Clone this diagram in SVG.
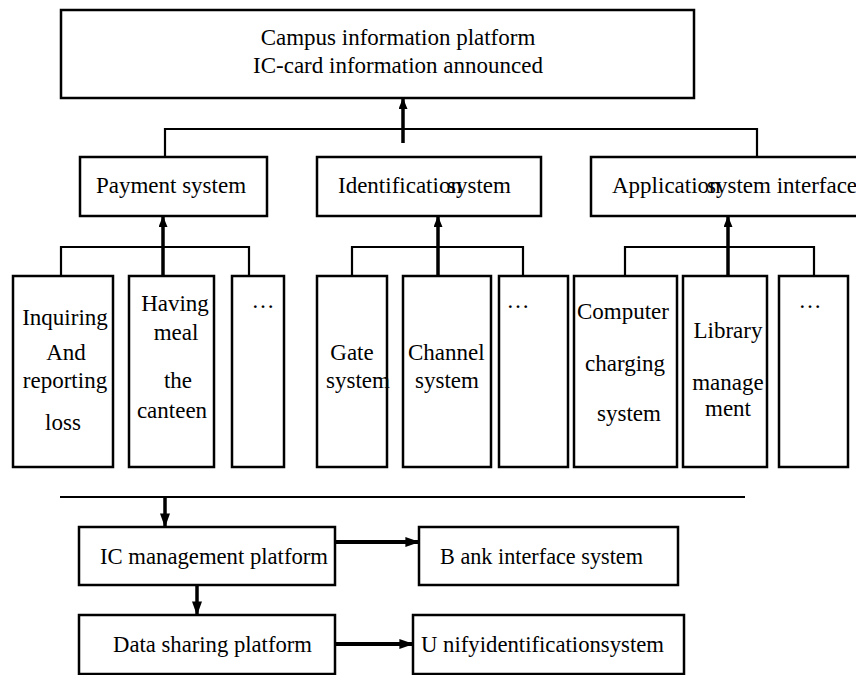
<svg xmlns="http://www.w3.org/2000/svg" width="856" height="675" viewBox="0 0 856 675" font-family="'Liberation Serif', 'DejaVu Serif', serif">
<defs>
<style>
.box{fill:#fff;stroke:#000;stroke-width:2.5}
.ln{fill:none;stroke:#000;stroke-width:2.2}
.th{fill:none;stroke:#000;stroke-width:3.5}
.th2{fill:none;stroke:#000;stroke-width:4}
text{font-family:'Liberation Serif','DejaVu Serif',serif;font-size:23px;fill:#000}
.m{text-anchor:middle}
</style>
<marker id="ah" viewBox="0 0 10 10" refX="9" refY="5" markerWidth="11" markerHeight="9" orient="auto" markerUnits="userSpaceOnUse" preserveAspectRatio="none"><path d="M0,0 L10,5 L0,10 z" fill="#000"/></marker>
<marker id="ah2" viewBox="0 0 10 10" refX="9" refY="5" markerWidth="14" markerHeight="10" orient="auto" markerUnits="userSpaceOnUse" preserveAspectRatio="none"><path d="M0,0 L10,5 L0,10 z" fill="#000"/></marker>
</defs>
<g id="connectors">
<path class="ln" d="M165,157 V129 H757 V157"/>
<path class="th" d="M403,143 V99" marker-end="url(#ah)"/>
<path class="ln" d="M61,276 V247 H249 V276"/>
<path class="th" d="M163,276 V217" marker-end="url(#ah)"/>
<path class="ln" d="M352,276 V247 H523 V276"/>
<path class="th" d="M438,276 V217" marker-end="url(#ah)"/>
<path class="ln" d="M625,276 V247 H814 V276"/>
<path class="th" d="M728,276 V217" marker-end="url(#ah)"/>
<path class="ln" d="M60,497 H745"/>
<path class="th" d="M165,497 V526" marker-end="url(#ah2)"/>
<path class="th2" d="M335,542 H418" marker-end="url(#ah2)"/>
<path class="th" d="M197,585 V614" marker-end="url(#ah2)"/>
<path class="th2" d="M335,644 H412" marker-end="url(#ah2)"/>
</g>
<g id="campus">
<rect class="box" x="61" y="10" width="633" height="88"/>
<text class="m" x="398" y="45">Campus information platform</text>
<text class="m" x="398" y="73">IC-card information announced</text>
</g>
<g id="payment">
<rect class="box" x="80" y="157" width="187" height="59"/>
<text class="m" x="171" y="193">Payment system</text>
</g>
<g id="identification">
<rect class="box" x="317" y="157" width="224" height="59"/>
<text x="338" y="193">Identification</text>
<text x="447" y="193">system</text>
</g>
<g id="application">
<rect class="box" x="591" y="157" width="270" height="59"/>
<text x="612" y="193">Application</text>
<text x="707" y="193">system interface</text>
</g>
<g id="inquiring">
<rect class="box" x="13" y="276" width="100" height="191"/>
<text class="m" x="65" y="325">Inquiring</text>
<text class="m" x="66" y="360">And</text>
<text class="m" x="65" y="388">reporting</text>
<text class="m" x="63" y="430">loss</text>
</g>
<g id="meal">
<rect class="box" x="129" y="276" width="85" height="191"/>
<text class="m" x="175" y="311">Having</text>
<text class="m" x="176" y="340">meal</text>
<text class="m" x="178" y="388">the</text>
<text class="m" x="172" y="418">canteen</text>
</g>
<g id="more1">
<rect class="box" x="232" y="276" width="52" height="191"/>
<text class="m" x="263" y="308">…</text>
</g>
<g id="gate">
<rect class="box" x="317" y="276" width="70" height="191"/>
<text class="m" x="352" y="360">Gate</text>
<text x="326" y="388">system</text>
</g>
<g id="channel">
<rect class="box" x="403" y="276" width="88" height="191"/>
<text x="408" y="360">Channel</text>
<text class="m" x="447" y="388">system</text>
</g>
<g id="more2">
<rect class="box" x="499" y="276" width="69" height="191"/>
<text class="m" x="518" y="308">…</text>
</g>
<g id="computer">
<rect class="box" x="574" y="276" width="103" height="191"/>
<text class="m" x="623" y="319">Computer</text>
<text class="m" x="625" y="371">charging</text>
<text class="m" x="629" y="421">system</text>
</g>
<g id="library">
<rect class="box" x="683" y="276" width="84" height="191"/>
<text class="m" x="728" y="338">Library</text>
<text class="m" x="728" y="390">manage</text>
<text class="m" x="728" y="416">ment</text>
</g>
<g id="more3">
<rect class="box" x="779" y="276" width="69" height="191"/>
<text class="m" x="810" y="308">…</text>
</g>
<g id="icmgmt">
<rect class="box" x="79" y="527" width="256" height="58"/>
<text x="100" y="564" textLength="228" lengthAdjust="spacingAndGlyphs">IC management platform</text>
</g>
<g id="bank">
<rect class="box" x="419" y="527" width="259" height="58"/>
<text x="440" y="564" textLength="203" lengthAdjust="spacingAndGlyphs">B ank interface system</text>
</g>
<g id="datashare">
<rect class="box" x="79" y="615" width="256" height="59"/>
<text x="113" y="652" textLength="199" lengthAdjust="spacingAndGlyphs">Data sharing platform</text>
</g>
<g id="unify">
<rect class="box" x="413" y="615" width="271" height="59"/>
<text x="421" y="652" textLength="243" lengthAdjust="spacingAndGlyphs">U nifyidentificationsystem</text>
</g>
</svg>
